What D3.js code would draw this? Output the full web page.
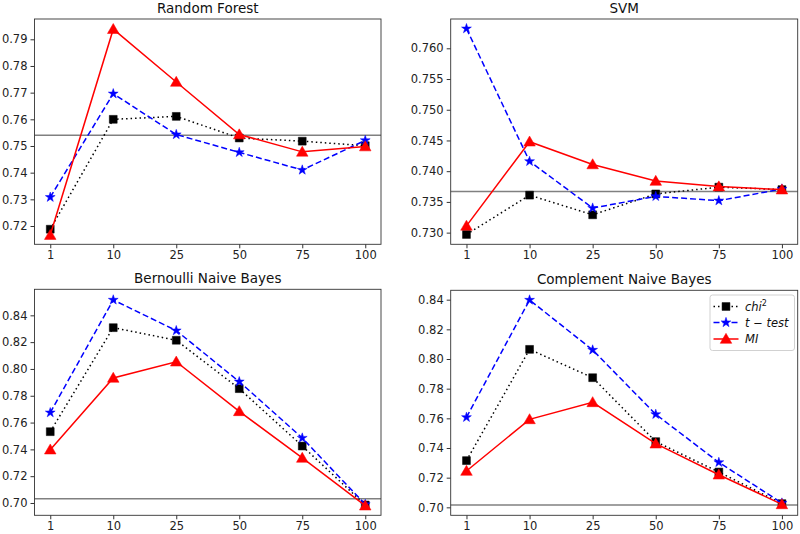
<!DOCTYPE html>
<html><head><meta charset="utf-8">
<script src="https://cdn.jsdelivr.net/npm/d3@7"></script>
<style>
body{margin:0;background:#fff;}
svg{font-family:"DejaVu Sans",sans-serif;}
</style></head>
<body><svg id="c" width="800" height="534"></svg>
<script>
const categories = ["1","10","25","50","75","100"];
const seriesNames = ["chi2","t-test","MI"];

const rfChi2 = [0.7188,0.7600,0.7611,0.7530,0.7518,0.7501];
const rfTtest = [0.7308,0.7696,0.7543,0.7476,0.7410,0.7521];
const rfMI = [0.7166,0.7938,0.7740,0.7543,0.7478,0.7498];
const rfBaseline = 0.7540;

const svmChi2 = [0.7297,0.7361,0.7329,0.7363,0.7374,0.7370];
const svmTtest = [0.7632,0.7416,0.7340,0.7359,0.7352,0.7371];
const svmMI = [0.7311,0.7448,0.7411,0.7384,0.7375,0.7370];
const svmBaseline = 0.7367;

const bnbChi2 = [0.7532,0.8308,0.8214,0.7853,0.7425,0.6985];
const bnbTtest = [0.7674,0.8515,0.8286,0.7905,0.7485,0.6990];
const bnbMI = [0.7398,0.7933,0.8054,0.7684,0.7336,0.6980];
const bnbBaseline = 0.7032;

const cnbChi2 = [0.7315,0.8065,0.7874,0.7443,0.7238,0.7025];
const cnbTtest = [0.7607,0.8398,0.8061,0.7627,0.7303,0.7029];
const cnbMI = [0.7245,0.7593,0.7708,0.7429,0.7220,0.7020];
const cnbBaseline = 0.7016;

const rfTicks = [0.72,0.73,0.74,0.75,0.76,0.77,0.78,0.79];
const svmTicks = [0.730,0.735,0.740,0.745,0.750,0.755,0.760];
const bnbTicks = [0.70,0.72,0.74,0.76,0.78,0.80,0.82,0.84];
const cnbTicks = [0.70,0.72,0.74,0.76,0.78,0.80,0.82,0.84];

const panels = [
  {title:"Random Forest", series:[rfChi2,rfTtest,rfMI], base:rfBaseline, ticks:rfTicks, fmt:".2f",
   x0:34.5, x1:381, y0:19, y1:244.3, dom:[0.71314,0.79761]},
  {title:"SVM", series:[svmChi2,svmTtest,svmMI], base:svmBaseline, ticks:svmTicks, fmt:".3f",
   x0:450.7, x1:797.7, y0:19, y1:244.3, dom:[0.7281,0.76477]},
  {title:"Bernoulli Naive Bayes", series:[bnbChi2,bnbTtest,bnbMI], base:bnbBaseline, ticks:bnbTicks, fmt:".2f",
   x0:34.5, x1:381, y0:289.3, y1:515.3, dom:[0.69082,0.85942]},
  {title:"Complement Naive Bayes", series:[cnbChi2,cnbTtest,cnbMI], base:cnbBaseline, ticks:cnbTicks, fmt:".2f",
   x0:450.7, x1:797.7, y0:290.3, y1:515.3, dom:[0.69463,0.84632], legend:true}
];

const styles = [
  {color:"#000000", dash:"1.5,3", marker:"square"},
  {color:"#0000ff", dash:"6,3", marker:"star"},
  {color:"#ff0000", dash:null, marker:"triangle"}
];
const symbols = {square:d3.symbolSquare, star:d3.symbolStar, triangle:d3.symbolTriangle};
const symSize = {square:62, star:30, triangle:58};

const svg = d3.select("#c");

function drawMarker(g, type, color, x, y){
  g.append("path")
   .attr("d", d3.symbol().type(symbols[type]).size(symSize[type])())
   .attr("transform", `translate(${x},${y})` + (type==="triangle" ? " translate(0,1)" : ""))
   .attr("fill", color).attr("stroke", color).attr("stroke-width", 0.5);
}

panels.forEach(p => {
  const g = svg.append("g");
  const x = d3.scalePoint().domain(categories).range([p.x0, p.x1]).padding(0.25);
  const y = d3.scaleLinear().domain(p.dom).range([p.y1, p.y0]);

  const xa = g.append("g").attr("transform", `translate(0,${p.y1})`)
    .call(d3.axisBottom(x).tickSize(4).tickPadding(3));
  const ya = g.append("g").attr("transform", `translate(${p.x0},0)`)
    .call(d3.axisLeft(y).tickValues(p.ticks).tickFormat(d3.format(p.fmt)).tickSize(4).tickPadding(3));
  [xa, ya].forEach(a => {
    a.select(".domain").remove();
    a.selectAll("text").attr("font-size", 11.5).attr("fill", "#222").attr("font-family", "DejaVu Sans");
    a.selectAll("line").attr("stroke", "#333");
  });

  g.append("line").attr("x1", p.x0).attr("x2", p.x1)
    .attr("y1", y(p.base)).attr("y2", y(p.base))
    .attr("stroke", "#808080").attr("stroke-width", 1.6);

  p.series.forEach((vals, i) => {
    const st = styles[i];
    const line = d3.line().x((d, j) => x(categories[j])).y(d => y(d));
    g.append("path").datum(vals).attr("d", line)
      .attr("fill", "none").attr("stroke", st.color).attr("stroke-width", 1.5)
      .attr("stroke-dasharray", st.dash);
    vals.forEach((v, j) => drawMarker(g, st.marker, st.color, x(categories[j]), y(v)));
  });

  g.append("rect").attr("x", p.x0).attr("y", p.y0)
    .attr("width", p.x1 - p.x0).attr("height", p.y1 - p.y0)
    .attr("fill", "none").attr("stroke", "#333").attr("stroke-width", 0.9);

  g.append("text").attr("x", (p.x0 + p.x1) / 2).attr("y", p.y0 - 6)
    .attr("text-anchor", "middle").attr("font-size", 13.5).attr("fill", "#111")
    .text(p.title);

  if (p.legend) {
    const lg = g.append("g");
    lg.append("rect").attr("x", 710).attr("y", 295).attr("width", 84.5).attr("height", 55.5)
      .attr("rx", 2.5).attr("fill", "#fff").attr("fill-opacity", 0.85)
      .attr("stroke", "#ccc").attr("stroke-width", 0.9);
    const labels = [["chi", "2"], ["t − test"], ["MI"]];
    [306.5, 322.5, 339].forEach((ly, i) => {
      const st = styles[i];
      lg.append("line").attr("x1", 713.5).attr("x2", 738.5).attr("y1", ly).attr("y2", ly)
        .attr("stroke", st.color).attr("stroke-width", 1.5).attr("stroke-dasharray", st.dash);
      drawMarker(lg, st.marker, st.color, 726, ly);
      const t = lg.append("text").attr("x", 745).attr("y", ly + 4)
        .attr("font-size", 11.5).attr("font-style", "italic").attr("fill", "#111");
      t.append("tspan").text(labels[i][0]);
      if (labels[i][1]) t.append("tspan").attr("dy", -5).attr("font-size", 8).attr("font-style", "normal").text(labels[i][1]);
    });
  }
});
</script>
</body></html>
